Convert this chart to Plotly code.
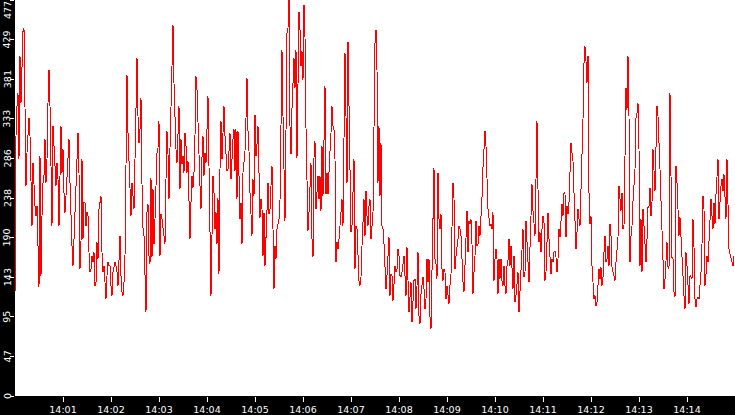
import pandas as pd
import plotly.graph_objects as go

# ---- data (one sample every 1.25 s, starting 14:00:00) ----
start_time = "2024-01-01 14:00:00"
step = "1250ms"

values_a = [121, 313, 349, 365, 285, 409, 353, 421, 439, 443,
            319, 253, 293, 319, 335, 313, 245, 205, 281, 249,
            229, 217, 229, 181, 131, 289, 145, 217, 257, 265,
            309, 257, 285, 353, 393, 349, 237, 205, 325, 301,
            265, 253, 281, 261, 205, 293, 325, 269, 297, 245,
            221, 241, 265, 293, 309, 257, 205, 181, 157, 189,
            237, 253, 277, 317, 269, 153, 185, 285, 189, 233,
            233, 205, 221, 217, 173, 149, 153, 169, 161, 173,
            133, 137, 185, 165, 225, 233, 241, 173, 149, 157,
            133, 117, 145, 161, 157, 157, 133, 121, 149, 157,
            161, 157, 149, 133, 177, 193, 145, 125, 121, 137,
            169, 285, 387, 317, 273, 253, 217, 257, 241, 225,
            285, 373, 407, 337, 305]
values_b = [321, 359, 255, 203, 193, 129, 101, 221, 231, 169,
            159, 263, 167, 249, 183, 213, 275, 293, 299, 331,
            169, 219, 213, 201, 193, 183, 261, 319, 291, 237,
            299, 359, 379, 447, 377, 323, 297, 281, 321, 349,
            249, 309, 279, 289, 269, 317, 301, 269, 283, 211,
            189, 233, 265, 251, 269, 313, 385, 369, 339, 291,
            253, 225, 287, 313, 265, 293, 281, 321, 361, 277,
            197, 121, 193, 265, 245, 201, 221, 183, 239, 147,
            273, 331, 285, 315, 349, 313, 281, 271, 273, 293,
            317, 261, 289, 309, 321, 271, 321, 237, 319, 245,
            213, 233, 183, 269, 281, 295, 335, 383, 319, 295,
            245, 217, 193, 261, 241, 339, 289, 303, 325, 269,
            215, 237, 225, 169, 221]
values_c = [157, 199, 233, 257, 219, 225, 253, 277, 201, 129,
            181, 165, 201, 209, 213, 235, 339, 417, 337, 251,
            211, 319, 437, 443, 477, 325, 291, 347, 391, 407,
            371, 417, 287, 357, 463, 441, 397, 415, 381, 471,
            433, 323, 227, 199, 221, 263, 281, 189, 167, 287,
            307, 225, 247, 265, 237, 265, 223, 301, 241, 305,
            373, 243, 269, 243, 277, 295, 317, 349, 325, 321,
            285, 161, 185, 177, 189, 205, 229, 237, 205, 337,
            413, 337, 257, 427, 357, 245, 197, 205, 249, 285,
            153, 205, 201, 173, 139, 133, 143, 181, 221, 237,
            193, 247, 217, 205, 229, 237, 189, 203, 221, 323,
            425, 441, 393, 257, 325, 241, 305, 205, 201, 183,
            147, 129, 145, 181, 191]
values_d = [121, 147, 145, 115, 135, 157, 149, 153, 177, 169,
            145, 143, 149, 161, 169, 145, 121, 179, 125, 101,
            119, 137, 89, 111, 139, 141, 105, 133, 173, 97,
            87, 123, 139, 143, 129, 105, 117, 165, 137, 165,
            95, 81, 151, 229, 275, 165, 159, 141, 269, 213,
            201, 219, 153, 139, 153, 149, 117, 133, 123, 111,
            133, 147, 203, 257, 239, 153, 169, 177, 189, 205,
            201, 193, 161, 137, 125, 153, 187, 223, 173, 211,
            207, 213, 183, 123, 149, 169, 211, 181, 183, 205,
            193, 213, 239, 275, 307, 319, 301, 247, 225, 215,
            205, 207, 201, 221, 139, 165, 177, 165, 123, 165,
            141, 165, 139, 133, 157, 133, 123, 157, 163, 189,
            157, 181, 161, 129, 169]
values_e = [113, 121, 137, 149, 101, 125, 151, 181, 201, 143,
            149, 211, 183, 157, 137, 179, 227, 255, 223, 211,
            193, 261, 331, 249, 185, 197, 173, 201, 217, 209,
            139, 149, 193, 221, 189, 169, 147, 165, 161, 173,
            175, 167, 149, 165, 201, 191, 209, 231, 217, 245,
            243, 191, 229, 219, 233, 277, 305, 293, 283, 245,
            219, 177, 197, 225, 213, 205, 249, 285, 333, 401,
            421, 403, 377, 409, 245, 207, 217, 157, 125, 117,
            121, 109, 113, 129, 153, 141, 155, 133, 143, 173,
            193, 161, 165, 181, 157, 207, 193, 155, 149, 145,
            139, 161, 181, 191, 253, 235, 223, 245, 201, 205,
            307, 371, 345, 409, 337, 161, 193, 205, 235, 257,
            273, 335, 341, 353, 297]
values_f = [157, 213, 149, 225, 205, 177, 161, 189, 227, 229,
            251, 217, 233, 297, 271, 247, 299, 349, 337, 287,
            273, 235, 199, 169, 129, 141, 173, 185, 155, 153,
            365, 265, 167, 165, 125, 119, 277, 257, 217, 193,
            215, 187, 175, 135, 121, 105, 173, 157, 129, 111,
            145, 143, 141, 213, 179, 117, 107, 117, 119, 117,
            133, 149, 183, 241, 225, 133, 147, 169, 161, 185,
            205, 237, 217, 201, 233, 207, 243, 269, 285, 213,
            241, 253, 261, 247, 267, 237, 213, 285, 241, 177,
            171, 165, 161, 157, 169]

y_max = 477
y_tick_values = [0, 47.7, 95.4, 143.1, 190.8, 238.5, 286.2, 333.9, 381.6, 429.3, 477]
y_tick_labels = ["0", "47", "95", "143", "190", "238", "286", "333", "381", "429", "477"]

x_tick_times = ["14:01", "14:02", "14:03", "14:04", "14:05", "14:06", "14:07",
                "14:08", "14:09", "14:10", "14:11", "14:12", "14:13", "14:14"]
x_range = ["2024-01-01 14:00:00", "2024-01-01 14:15:00"]

# ---- build ----
values = values_a + values_b + values_c + values_d + values_e + values_f
times = pd.date_range(start=start_time, periods=len(values), freq=step)
x_tick_vals = [pd.Timestamp("2024-01-01 " + t + ":00") for t in x_tick_times]

FONT = "DejaVu Sans"

fig = go.Figure()
fig.add_trace(go.Scatter(
    x=times, y=values, mode="lines",
    line=dict(color="#ff0000", width=1),
    hoverinfo="skip", showlegend=False,
))

for v, lab in zip(y_tick_values, y_tick_labels):
    top = v >= y_max
    fig.add_annotation(
        x=0, xref="paper", y=v, yref="y",
        text=lab, showarrow=False, textangle=-90,
        xanchor="center", yanchor="top" if top else "middle",
        xshift=-8, yshift=0,
        font=dict(family=FONT, size=9.5, color="white"),
        borderpad=0,
    )

fig.update_layout(
    width=735, height=415,
    margin=dict(l=15, r=0, t=0, b=16, pad=0),
    paper_bgcolor="black", plot_bgcolor="white",
    font=dict(family=FONT, size=9.5, color="white"),
    xaxis=dict(
        type="date", range=x_range,
        tickvals=x_tick_vals, ticktext=x_tick_times,
        ticks="outside", ticklen=5, tickwidth=1, tickcolor="white",
        showgrid=False, zeroline=False, showline=False,
        tickfont=dict(family=FONT, size=9.5, color="white"),
        fixedrange=True,
    ),
    yaxis=dict(
        range=[0, y_max],
        tickvals=y_tick_values, showticklabels=False,
        ticks="outside", ticklen=4, tickwidth=1, tickcolor="white",
        showgrid=False, zeroline=False, showline=False,
        fixedrange=True,
    ),
)

fig.write_html(
    "out.html",
    config={"displayModeBar": False},
    post_script=(
        "document.body.style.margin='0';document.body.style.overflow='hidden';"
        "document.head.insertAdjacentHTML('beforeend',"
        "'<style>.js-line{shape-rendering:crispEdges}</style>');"
    ),
)
